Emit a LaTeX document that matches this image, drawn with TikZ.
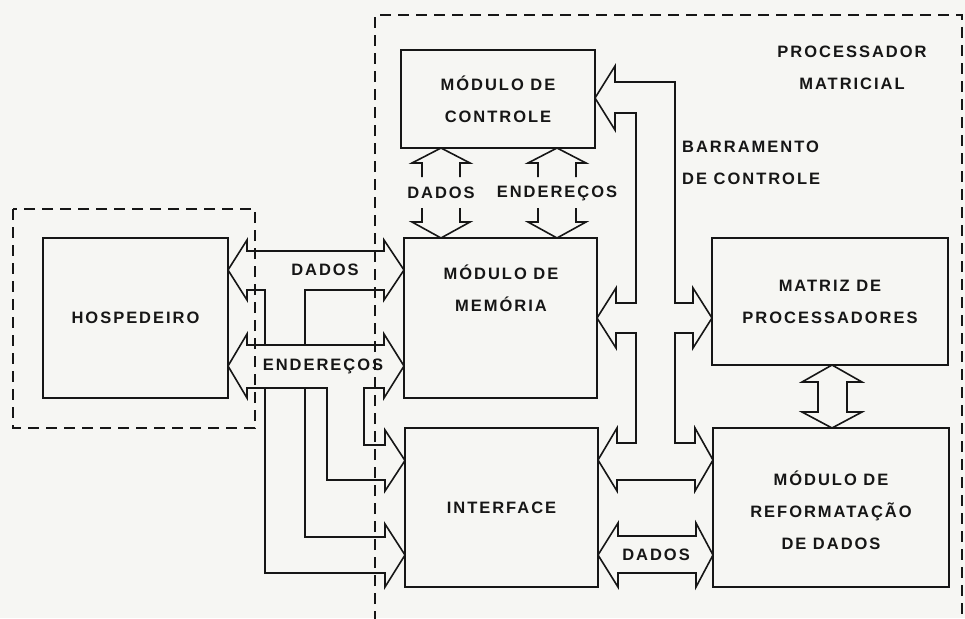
\documentclass[tikz,border=0pt]{standalone}
\usepackage{fontspec}
\setmainfont{Liberation Sans}[LetterSpace=12]
\definecolor{ink}{RGB}{22,22,22}
\definecolor{paper}{RGB}{246,246,243}
\tikzset{
  box/.style={draw=ink, line width=1.7pt, inner sep=0pt, outer sep=0pt},
  bus/.style={draw=ink, line width=1.6pt, line join=miter},
  dbox/.style={draw=ink, line width=2pt, dash pattern=on 11pt off 7pt},
  txt/.style={font=\bfseries\fontsize{16.5}{32}\selectfont, text=ink, inner sep=0pt, align=center},
}
\begin{document}
\begin{tikzpicture}[x=1pt,y=-1pt]
\useasboundingbox (0,0) rectangle (965,618);
\clip (0,0) rectangle (965,618);
\fill[paper] (0,0) rectangle (965,618);

% dashed enclosures
\draw[dbox] (13,209) rectangle (255,428);
\draw[dbox] (375,640) -- (375,15) -- (962,15) -- (962,640);

% boxes
\node[box, minimum width=185pt, minimum height=160pt] (host) at (135.5,318) {};
\node[box, minimum width=194pt, minimum height=98pt] (ctrl) at (498,99) {};
\node[box, minimum width=193pt, minimum height=160pt] (mem) at (500.5,318) {};
\node[box, minimum width=193pt, minimum height=159pt] (intf) at (501.5,507.5) {};
\node[box, minimum width=236pt, minimum height=127pt] (matriz) at (830,301.5) {};
\node[box, minimum width=236pt, minimum height=159pt] (reform) at (831,507.5) {};

% labels in boxes
\node[txt] (thost) at (host.center) {HOSPEDEIRO};
\node[txt] (tctrl) at (ctrl.center) {MÓDULO DE\\CONTROLE};
\node[txt] (tmem) at (501,288) {MÓDULO DE\\MEMÓRIA};
\node[txt] (tintf) at (intf.center) {INTERFACE};
\node[txt] (tmatriz) at (matriz.center) {MATRIZ DE\\PROCESSADORES};
\node[txt] (treform) at (831,510) {MÓDULO DE\\REFORMATAÇÃO\\DE DADOS};
\node[txt] (tproc) at (852,67.5) {PROCESSADOR\\MATRICIAL};
\node[txt, align=left, anchor=west] (tbar) at (682,163) {BARRAMENTO\\DE CONTROLE};

% DADOS / ENDERECOS between controle and memoria
\draw[bus] (422,177) -- (422,163) -- (412,163) -- (441,148) -- (470,163) -- (460,163) -- (460,177);
\draw[bus] (422,208) -- (422,222) -- (412,222) -- (441,238) -- (470,222) -- (460,222) -- (460,208);
\node[txt] (d1) at (441,193) {DADOS};
\draw[bus] (538,177) -- (538,163) -- (528,163) -- (557,148) -- (586,163) -- (576,163) -- (576,177);
\draw[bus] (538,208) -- (538,222) -- (528,222) -- (557,238) -- (586,222) -- (576,222) -- (576,208);
\node[txt] (e1) at (557,193) {ENDEREÇOS};

% DADOS bus host <-> memoria
\draw[bus] (265,345) -- (265,290) -- (247,290) -- (247,300) -- (228,270) -- (247,240) -- (247,251)
  -- (384,251) -- (384,240) -- (404,270) -- (384,300) -- (384,290) -- (305,290) -- (305,345);
\node[txt] (d2) at (325,270) {DADOS};

% ENDERECOS bus host <-> memoria, with branch to interface
\draw[bus] (247,345) -- (247,334) -- (228,366) -- (247,398) -- (247,388) -- (327,388) -- (327,480)
  -- (385,480) -- (385,491) -- (405,460.5) -- (385,430) -- (385,445) -- (364,445) -- (364,388)
  -- (384,388) -- (384,398) -- (404,366) -- (384,334) -- (384,345) -- cycle;
\node[txt] (e2) at (323,366) {ENDEREÇOS};

% DADOS branch to interface
\draw[bus] (265,388) -- (265,573) -- (385,573) -- (385,587) -- (405,555) -- (385,524) -- (385,537)
  -- (305,537) -- (305,388);

% barramento de controle
\draw[bus] (615,113) -- (636,113) -- (636,303) -- (616,303) -- (616,288) -- (597,318) -- (616,348)
  -- (616,333) -- (636,333) -- (636,443) -- (617,443) -- (617,428) -- (598,460) -- (617,491)
  -- (617,480) -- (695,480) -- (695,491) -- (713,460) -- (695,428) -- (695,443) -- (675,443)
  -- (675,333) -- (693,333) -- (693,348) -- (712,318) -- (693,288) -- (693,303) -- (675,303)
  -- (675,82) -- (615,82) -- (615,66) -- (595,98) -- (615,130) -- cycle;

% DADOS interface <-> reformatacao
\draw[bus] (598,555) -- (618,523) -- (618,536) -- (696,536) -- (696,523) -- (713,555) -- (696,587)
  -- (696,573) -- (618,573) -- (618,587) -- cycle;
\node[txt] (d3) at (656,555) {DADOS};

% matriz <-> reformatacao
\draw[bus] (832,365) -- (862,382) -- (847,382) -- (847,412) -- (862,412) -- (832,428) -- (802,412)
  -- (818,412) -- (818,382) -- (802,382) -- cycle;
\end{tikzpicture}
\end{document}
